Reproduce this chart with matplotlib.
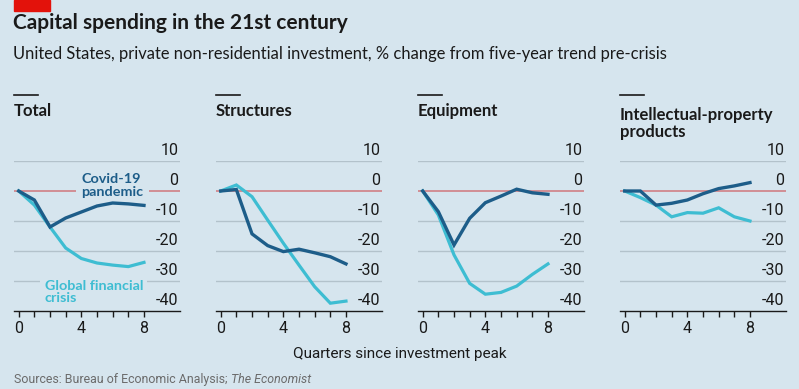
import matplotlib
matplotlib.use("Agg")
import matplotlib.pyplot as plt
from matplotlib.patches import Rectangle
from matplotlib.lines import Line2D

# ---------------- data ----------------
quarters = [0, 1, 2, 3, 4, 5, 6, 7, 8]
panel_titles = ["Total", "Structures", "Equipment", "Intellectual-property\nproducts"]

covid_total = [0, -3, -12, -9, -7, -5, -4, -4.3, -4.8]
gfc_total = [0, -4.7, -12, -19, -22.5, -24, -24.7, -25.2, -23.8]

covid_structures = [0, 0.5, -14.3, -18.2, -20.2, -19.4, -20.6, -21.9, -24.3]
gfc_structures = [0, 2, -1.9, -9.7, -17.4, -24.7, -31.9, -37.4, -36.7]

covid_equipment = [0, -6.9, -18, -9.1, -3.9, -1.7, 0.6, -0.6, -1.1]
gfc_equipment = [0, -8, -21.3, -30.8, -34.4, -33.8, -31.7, -27.8, -24.3]

covid_ipp = [0, 0, -4.7, -4.1, -3, -0.9, 0.8, 1.7, 2.8]
gfc_ipp = [0, -2.2, -4.7, -8.6, -7.2, -7.4, -5.6, -8.6, -10]

covid_series = [covid_total, covid_structures, covid_equipment, covid_ipp]
gfc_series = [gfc_total, gfc_structures, gfc_equipment, gfc_ipp]

y_ticks = [10, 0, -10, -20, -30, -40]
y_tick_labels = ["10", "0", "-10", "-20", "-30", "-40"]
x_ticks = [0, 1, 2, 3, 4, 5, 6, 7, 8]
x_tick_labels = ["0", "", "", "", "4", "", "", "", "8"]

title = "Capital spending in the 21st century"
subtitle = "United States, private non-residential investment, % change from five-year trend pre-crisis"
xlabel = "Quarters since investment peak"
source_a = "Sources: Bureau of Economic Analysis; "
source_b = "The Economist"

# ---------------- style ----------------
BG = "#d6e5ee"
DARK = "#1d5d89"
LIGHT = "#3ebdd2"
RED = "#d0777c"
GRID = "#b3c2cb"
TEXT = "#1a1a1a"
FONT = "Roboto"
SANS = "Lato"

W, H = 799, 389
fig = plt.figure(figsize=(W / 100, H / 100), dpi=100)
fig.patch.set_facecolor(BG)


def fx(px):
    return px / W


def fy(py):
    return 1 - py / H


# red rectangle
fig.patches.append(Rectangle((fx(14), fy(11)), fx(36), 11 / H,
                             transform=fig.transFigure, color="#e3120b", zorder=5))

fig.text(fx(13), fy(29), title, fontsize=15, fontweight="bold", color=TEXT,
         family=SANS, va="baseline", ha="left")
fig.text(fx(13), fy(59), subtitle, fontsize=11.9, color=TEXT,
         family=SANS, va="baseline", ha="left")

lefts = [14, 216, 418, 620]
title_base = [116, 116, 116, 137]
pw = 166
for i, lx in enumerate(lefts):
    ax = fig.add_axes([fx(lx), fy(311), fx(pw), 150 / H])
    ax.set_facecolor("none")
    ax.set_xlim(-0.3, 10.3)
    ax.set_ylim(-40, 10)
    for s in ["top", "right", "left"]:
        ax.spines[s].set_visible(False)
    ax.spines["bottom"].set_color(TEXT)
    ax.spines["bottom"].set_linewidth(1.0)
    ax.set_yticks([])
    ax.set_xticks(x_ticks)
    ax.set_xticklabels(x_tick_labels, fontsize=11.5, family=FONT, color=TEXT)
    ax.tick_params(axis="x", direction="out", length=4, width=1, color=TEXT, pad=3)

    for v, lab in zip(y_ticks, y_tick_labels):
        if v == 0:
            ax.axhline(v, color=RED, lw=1.1, zorder=2)
        elif v != -40:
            ax.axhline(v, color=GRID, lw=1.0, zorder=1)
        ax.annotate(lab, xy=(1, v), xycoords=ax.get_yaxis_transform(),
                    xytext=(-1, 2.5), textcoords="offset points",
                    ha="right", va="bottom", fontsize=11.5, family=FONT,
                    color=TEXT, zorder=3)

    ax.plot(quarters, gfc_series[i], color=LIGHT, lw=2.3, zorder=4,
            solid_joinstyle="miter", clip_on=False)
    ax.plot(quarters, covid_series[i], color=DARK, lw=2.4, zorder=5,
            solid_joinstyle="miter", clip_on=False)

    # panel header
    fig.add_artist(Line2D([fx(lx), fx(lx + 24)], [fy(95), fy(95)],
                          color=TEXT, lw=1.2, transform=fig.transFigure))
    fig.text(fx(lx), fy(title_base[i]), panel_titles[i], fontsize=12, fontweight="bold",
             color=TEXT, family=SANS, va="baseline", ha="left",
             linespacing=1.05)

    if i == 0:
        ax.text(4.0, -1.7, "Covid-19\npandemic", color=DARK, fontsize=10.4,
                fontweight="bold", family=SANS, ha="left", va="baseline",
                linespacing=1.1, zorder=3,
                bbox=dict(boxstyle="square,pad=0.4", fc=BG, ec="none"))
        ax.text(1.65, -37, "Global financial\ncrisis", color=LIGHT, fontsize=10.4,
                fontweight="bold", family=SANS, ha="left", va="baseline",
                linespacing=1.05, zorder=3,
                bbox=dict(boxstyle="square,pad=0.3", fc=BG, ec="none"))

fig.text(fx(400), fy(358), xlabel, fontsize=11, color=TEXT, family=FONT,
         ha="center", va="baseline")
t = fig.text(fx(14), fy(383), source_a, fontsize=8.9, color="#6b6b6b", family=FONT,
             ha="left", va="baseline")
fig.canvas.draw()
bb = t.get_window_extent()
fig.text(bb.x1 / W, fy(383), source_b, fontsize=8.9, color="#6b6b6b", family=FONT,
         style="italic", ha="left", va="baseline")

fig.savefig("out.png", dpi=100, facecolor=BG)
